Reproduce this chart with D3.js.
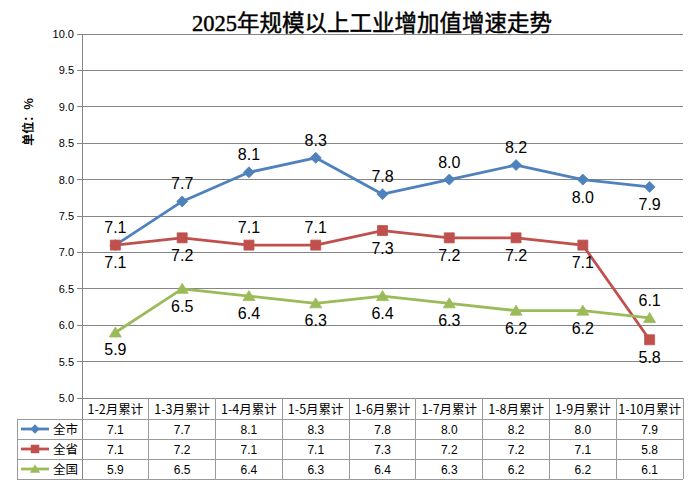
<!DOCTYPE html>
<html><head><meta charset="utf-8">
<script src="https://cdn.jsdelivr.net/npm/d3@7/dist/d3.min.js"></script>
<style>body{margin:0;background:#fff}</style>
</head><body>
<svg id="c" width="695" height="489"></svg>
<script>
const categories = ["1-2月累计","1-3月累计","1-4月累计","1-5月累计","1-6月累计","1-7月累计","1-8月累计","1-9月累计","1-10月累计"];
const cityValues = [7.1,7.7,8.1,8.3,7.8,8.0,8.2,8.0,7.9];
const provinceValues = [7.1,7.2,7.1,7.1,7.3,7.2,7.2,7.1,5.8];
const nationValues = [5.9,6.5,6.4,6.3,6.4,6.3,6.2,6.2,6.1];
const seriesNames = ["全市","全省","全国"];
const yTicks = [5.0,5.5,6.0,6.5,7.0,7.5,8.0,8.5,9.0,9.5,10.0];
// label placement: 1 = above, -1 = below
const citySide = [1,1,1,1,1,1,1,-1,-1];
const provinceSide = [-1,-1,1,1,-1,-1,-1,-1,-1];
const nationSide = [-1,-1,-1,-1,-1,-1,-1,-1,1];

const series = [
  {name:seriesNames[0], values:cityValues, side:citySide, color:"#4F81BD", marker:"diamond"},
  {name:seriesNames[1], values:provinceValues, side:provinceSide, color:"#C0504D", marker:"square"},
  {name:seriesNames[2], values:nationValues, side:nationSide, color:"#9BBB59", marker:"triangle"}
];

const svg = d3.select("#c");
const L = 82, R = 683, T = 34, B = 398;
const x = d3.scaleBand().domain(categories).range([L, R]).padding(0);
const y = d3.scaleLinear().domain([5,10]).range([B, T]);
const grid = "#868686";

// title
svg.append("text").attr("x", 372).attr("y", 31).attr("text-anchor","middle")
  .attr("font-family","'Liberation Serif','Noto Sans CJK SC',serif").attr("font-size",22.5)
  .attr("fill","#000").attr("stroke","#000").attr("stroke-width",0.45)
  .text("2025年规模以上工业增加值增速走势");

// y-axis label
svg.append("text").attr("transform","translate(33,122) rotate(-90)").attr("text-anchor","middle")
  .attr("font-family","'Noto Sans CJK SC',sans-serif").attr("font-size",12).attr("font-weight","bold")
  .attr("fill","#000").text("单位：%");

// gridlines
svg.append("g").selectAll("line").data(yTicks).join("line")
  .attr("x1", L-5).attr("x2", R).attr("y1", d=>y(d)).attr("y2", d=>y(d))
  .attr("stroke", grid).attr("stroke-width",1).attr("shape-rendering","crispEdges");

// y axis
const yAxis = d3.axisLeft(y).tickValues(yTicks).tickFormat(d3.format(".1f")).tickSize(0).tickPadding(8);
const ga = svg.append("g").attr("transform",`translate(${L},0)`).call(yAxis);
ga.select(".domain").remove();
ga.selectAll("text").attr("font-family","'Liberation Sans',sans-serif").attr("font-size",11).attr("fill","#000");
svg.append("line").attr("x1",L).attr("x2",L).attr("y1",T).attr("y2",479)
  .attr("stroke",grid).attr("shape-rendering","crispEdges");

// markers
function markerPath(type){
  if(type==="diamond") return "M0,-5.5L5.5,0L0,5.5L-5.5,0Z";
  if(type==="square") return "M-5,-5H5V5H-5Z";
  return "M0,-5.5L6,4.5H-6Z";
}

const cx = c => x(c) + x.bandwidth()/2;
series.forEach(s=>{
  const line = d3.line().x((d,i)=>cx(categories[i])).y(d=>y(d));
  svg.append("path").datum(s.values).attr("d", line).attr("fill","none")
    .attr("stroke", s.color).attr("stroke-width",2.8).attr("stroke-linejoin","round");
  svg.append("g").selectAll("path").data(s.values).join("path")
    .attr("d", markerPath(s.marker))
    .attr("transform",(d,i)=>`translate(${cx(categories[i])},${y(d)})`)
    .attr("fill", s.color).attr("stroke", s.color).attr("stroke-width",0.8);
});
series.forEach(s=>{
  svg.append("g").selectAll("text").data(s.values).join("text")
    .attr("x",(d,i)=>cx(categories[i]))
    .attr("y",(d,i)=> s.side[i] > 0 ? y(d)-12 : y(d)+23)
    .attr("text-anchor","middle")
    .attr("font-family","'Liberation Sans',sans-serif").attr("font-size",16).attr("fill","#000")
    .text(d=>d.toFixed(1));
});

// data table
const rowsY = [398, 419, 439, 459, 479];
const tg = svg.append("g");
const tcol = "#9a9a9a";
rowsY.forEach((ry,i)=>{
  tg.append("line").attr("x1", i===0 ? L : 17).attr("x2", R).attr("y1", ry).attr("y2", ry)
    .attr("stroke", i===0 ? grid : tcol).attr("shape-rendering","crispEdges");
});
categories.forEach((c,i)=>{
  tg.append("line").attr("x1", x(c)+x.bandwidth()).attr("x2", x(c)+x.bandwidth())
    .attr("y1", 398).attr("y2", 479).attr("stroke", tcol).attr("shape-rendering","crispEdges");
});
tg.append("line").attr("x1",17).attr("x2",17).attr("y1",419).attr("y2",479)
  .attr("stroke",tcol).attr("shape-rendering","crispEdges");
tg.selectAll("text.h").data(categories).join("text").attr("class","h")
  .attr("x", c=>cx(c)).attr("y", 413.5).attr("text-anchor","middle")
  .attr("font-family","'Noto Sans CJK SC',sans-serif").attr("font-size",12.5).attr("fill","#000")
  .text(c=>c);
series.forEach((s,r)=>{
  const my = (rowsY[r+1]+rowsY[r+2])/2;
  tg.append("line").attr("x1",21).attr("x2",49).attr("y1",my).attr("y2",my)
    .attr("stroke",s.color).attr("stroke-width",2.8);
  tg.append("path").attr("d", markerPath(s.marker))
    .attr("transform",`translate(35,${my}) scale(0.85)`).attr("fill",s.color);
  tg.append("text").attr("x",53).attr("y",my+4.5)
    .attr("font-family","'Noto Sans CJK SC',sans-serif").attr("font-size",12.5).attr("fill","#000").text(s.name);
  tg.selectAll(null).data(s.values).join("text")
    .attr("x",(d,i)=>cx(categories[i])).attr("y", my+4.5).attr("text-anchor","middle")
    .attr("font-family","'Liberation Sans',sans-serif").attr("font-size",12).attr("fill","#000")
    .text(d=>d.toFixed(1));
});
</script>
</body></html>
